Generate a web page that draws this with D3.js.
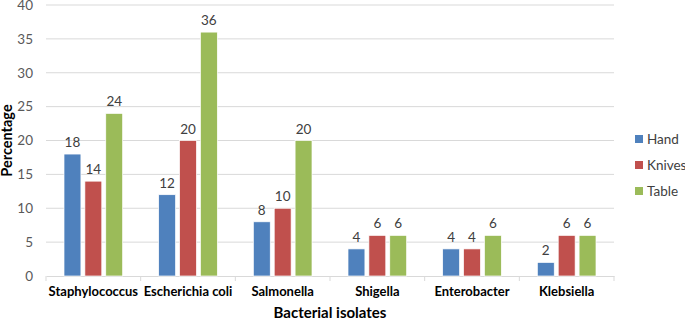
<!DOCTYPE html>
<html>
<head>
<meta charset="utf-8">
<script src="https://cdn.jsdelivr.net/npm/d3@7"></script>
<style>
  body { margin: 0; background: #fff; }
  svg { font-family: Lato, "Open Sans", sans-serif; }
</style>
</head>
<body>
<svg id="chart" width="685" height="321"></svg>
<script>
const categories = ['Staphylococcus', 'Escherichia coli', 'Salmonella', 'Shigella', 'Enterobacter', 'Klebsiella'];
const seriesNames = ['Hand', 'Knives', 'Table'];
const hand = [18, 12, 8, 4, 4, 2];
const knives = [14, 20, 10, 6, 4, 6];
const table = [24, 36, 20, 6, 6, 6];
const yTicks = [0, 5, 10, 15, 20, 25, 30, 35, 40];
const colors = ['#4f81bd', '#c0504d', '#9bbb59'];

const svg = d3.select('#chart');
const margin = { top: 5, right: 71, bottom: 45, left: 46 };
const w = 685 - margin.left - margin.right;
const h = 321 - margin.top - margin.bottom;

const g = svg.append('g').attr('transform', `translate(${margin.left},${margin.top})`);

const x = d3.scaleBand().domain(categories).range([0, w]);
const xInner = d3.scaleBand().domain(seriesNames).range([18, x.bandwidth() - 18]).paddingInner(0.19);
const y = d3.scaleLinear().domain([0, 40]).range([h, 0]);
const color = d3.scaleOrdinal(seriesNames, colors);

// gridlines
g.selectAll('.grid')
    .data(yTicks.filter((d) => d > 0))
    .enter()
    .append('line')
    .attr('x1', 0)
    .attr('x2', w)
    .attr('y1', (d) => y(d))
    .attr('y2', (d) => y(d))
    .attr('stroke', '#d9d9d9')
    .attr('stroke-width', 1);

// y axis labels
const yAxis = g.append('g').call(d3.axisLeft(y).tickValues(yTicks).tickSize(0).tickPadding(13));
yAxis.select('.domain').remove();
yAxis.selectAll('text').attr('font-size', 13.5).attr('fill', '#595959').attr('font-family', 'Lato, sans-serif');

// x axis
const xAxis = g.append('g').attr('transform', `translate(0,${h})`)
    .call(d3.axisBottom(x).tickSize(0).tickPadding(11));
xAxis.select('.domain').attr('stroke', '#d9d9d9');
xAxis.selectAll('text').attr('font-size', 13).attr('font-weight', 'bold').attr('fill', '#000').attr('font-family', 'Lato, sans-serif');
g.append('g').selectAll('line')
    .data(d3.range(categories.length + 1))
    .enter()
    .append('line')
    .attr('x1', (i) => i * x.step())
    .attr('x2', (i) => i * x.step())
    .attr('y1', h)
    .attr('y2', h + 5)
    .attr('stroke', '#d9d9d9');

// bars
const rows = categories.map((c, i) => ({
    cat: c,
    vals: [
        { s: 'Hand', v: hand[i] },
        { s: 'Knives', v: knives[i] },
        { s: 'Table', v: table[i] },
    ],
}));

const groups = g.selectAll('.cat')
    .data(rows)
    .enter()
    .append('g')
    .attr('transform', (d) => `translate(${x(d.cat)},0)`);

groups.selectAll('rect')
    .data((d) => d.vals)
    .enter()
    .append('rect')
    .attr('x', (d) => xInner(d.s))
    .attr('y', (d) => y(d.v))
    .attr('width', xInner.bandwidth())
    .attr('height', (d) => h - y(d.v))
    .attr('fill', (d) => color(d.s))
    .attr('stroke', '#fff')
    .attr('stroke-width', 0.7);

groups.selectAll('.val')
    .data((d) => d.vals)
    .enter()
    .append('text')
    .attr('x', (d) => xInner(d.s) + xInner.bandwidth() / 2)
    .attr('y', (d) => y(d.v) - 7)
    .attr('text-anchor', 'middle')
    .attr('font-size', 13.5)
    .attr('fill', '#404040')
    .text((d) => d.v);

// axis titles
svg.append('text')
    .attr('x', margin.left + w / 2)
    .attr('y', 318)
    .attr('text-anchor', 'middle')
    .attr('font-size', 15)
    .attr('font-weight', 'bold')
    .text('Bacterial isolates');

svg.append('text')
    .attr('transform', `translate(12,${margin.top + h / 2}) rotate(-90)`)
    .attr('text-anchor', 'middle')
    .attr('font-size', 14.5)
    .attr('font-weight', 'bold')
    .text('Percentage');

// legend
const legend = svg.selectAll('.legend')
    .data(seriesNames)
    .enter()
    .append('g')
    .attr('transform', (d, i) => `translate(635,${139 + i * 26})`);

legend.append('rect')
    .attr('x', 0)
    .attr('y', -4)
    .attr('width', 8)
    .attr('height', 8)
    .attr('fill', (d) => color(d));

legend.append('text')
    .attr('x', 12)
    .attr('y', 5)
    .attr('font-size', 13.5)
    .attr('fill', '#404040')
    .text((d) => d);
</script>
</body>
</html>
